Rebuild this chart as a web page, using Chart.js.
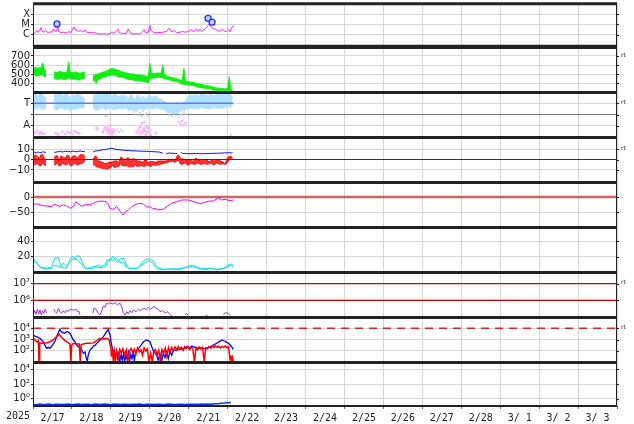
<!DOCTYPE html>
<html>
<head>
<meta charset="utf-8">
<script src="https://cdn.jsdelivr.net/npm/chart.js@4.4.1/dist/chart.umd.min.js"></script>
<style>
html, body { margin: 0; padding: 0; background: #fff; }
#wrap { position: relative; width: 634px; height: 424px; overflow: hidden; }
#wrap canvas { position: absolute; left: 0; }
</style>
</head>
<body>
<div id="wrap"></div>
<script>
// ---- X AXIS (hours since 2/17 00:00) ----
const dayLabels = ['2/17','2/18','2/19','2/20','2/21','2/22','2/23','2/24','2/25','2/26','2/27','2/28','3/ 1','3/ 2','3/ 3'];
const yearLabel = '2025';

// ---- PANEL 1: X-ray flux ----
const xrayTicks = [1e-6, 1e-5, 1e-4];
const xrayLabels = ['C', 'M', 'X'];
const xrayHours = [0.2,1.2,2.3,2.9,4.0,5.0,5.8,6.8,7.9,8.9,10.4,11.5,12.5,13.6,14.6,15.2,15.8,17.0,18.7,20.7,
  22.3,23.4,24.4,25.2,26.0,27.3,28.5,29.7,31.0,32.0,33.1,35.1,37.2,39.3,41.3,43.4,45.4,47.5,48.7,49.9,
  51.6,52.4,53.2,55.3,57.3,58.8,59.8,61.9,64.0,66.0,67.7,68.5,69.5,71.1,72.0,72.6,74.2,76.2,78.3,80.3,
  82.4,83.6,84.4,85.5,86.9,88.5,90.6,92.3,93.7,95.8,97.8,98.9,100.9,101.9,103.0,104.0,105.4,106.7,107.7,108.7,
  109.5,110.8,112.2,113.6,115.3,116.9,117.9,119.4,120.6,121.4,122.4,123.5];
const xrayFlux = [1.2e-6,1.5e-6,2.6e-6,1.7e-6,2.1e-6,5.0e-6,2.0e-6,1.7e-6,2.6e-6,1.5e-6,1.85e-6,1.7e-6,3.5e-6,2.0e-6,2.6e-6,7.1e-6,2.1e-6,1.5e-6,1.7e-6,1.5e-6,
  2.0e-6,1.5e-6,3.5e-6,5.4e-6,3.0e-6,2.6e-6,2.1e-6,2.45e-6,1.7e-6,3.0e-6,1.7e-6,1.5e-6,1.7e-6,1.3e-6,1.12e-6,1.2e-6,1.12e-6,1.2e-6,1.85e-6,1.3e-6,
  2.45e-6,3.25e-6,1.5e-6,1.3e-6,1.3e-6,3.5e-6,1.5e-6,1.12e-6,1.2e-6,1.12e-6,2.0e-6,3.0e-6,1.5e-6,1.7e-6,8.2e-6,2.6e-6,1.7e-6,1.5e-6,1.6e-6,1.7e-6,
  2.0e-6,4.0e-6,3.5e-6,1.85e-6,2.45e-6,1.5e-6,1.7e-6,2.1e-6,1.7e-6,2.0e-6,3.0e-6,1.85e-6,3.5e-6,2.0e-6,3.5e-6,2.0e-6,3.0e-6,4.3e-6,7.1e-6,1.1e-5,
  6.2e-6,4.3e-6,3.5e-6,2.6e-6,2.1e-6,3.5e-6,2.1e-6,2.0e-6,3.0e-6,1.85e-6,4.3e-6,7.6e-6];
const flareHours = [14.8, 107.9, 110.4];
const flareFlux = [1.1e-5, 3.9e-5, 1.66e-5];

// ---- PANEL 2: solar wind speed, hourly high / low ----
const speedTicks = [400, 500, 600, 700];
const windHigh = [570,565,575,560,575,565,625,550,545, null,null,null,null,
  525,520,515,525,530,520,520,515,525,635,515,520,510,525,520,510,505,520,515,525, null,null,null,null,
  480,490,495,500,505,515,520,525,530,540,550,560,560,555,550,545,540,530,525,520,
  515,510,505,500,500,500,495,490,490,490,485,480,480,475,470,620,505,505,505,510,510,510,505,600,
  490,480,475,470,465,460,455,450,445,440,
  430,425,560,420,420,415,410,410,405,400,
  395,390,385,385,380,375,370,370,365,360,
  355,350,345,345,340,340,338,335,335,335,470,330,330];
const windLow = [480,490,475,485,480,490,495,470,470, null,null,null,null,
  445,450,440,445,450,445,440,435,450,455,450,440,445,440,445,430,440,450,450,455, null,null,null,null,
  420,430,395,440,440,455,460,465,470,480,480,490,490,485,480,470,470,465,465,460,
  450,445,440,440,440,430,425,425,430,420,420,415,415,410,400,450,450,455,455,460,460,465,460,455,
  450,445,440,435,430,425,420,415,415,410,
  390,390,385,385,380,380,375,375,370,365,
  355,355,350,345,345,340,340,335,335,330,
  320,320,318,318,315,315,312,312,312,315,318,315,318];

// ---- PANEL 3: IMF sector, toward band / away points (deg) ----
const sectorTicks = [90, 180, 270];
const sectorLabels = ['A', '', 'T'];
const sectorMeanHours = [0, 123.5];
const sectorMeanPhi = [270, 270];
const towardHigh = [340,345,345,330,340,340,340,320,315, null,null,null,null,
  350,345,335,350,350,335,330,345,340,330,310,335,335,330,345,345,340,320,315,300, null,null,null,null,
  345,335,335,345,350,335,340,350,350,345,340,335,330,340,340,330,320,330,335,330,
  330,320,305,335,335,300,300,330,335,315,320,325,310,305,330,335,320,320,330,330,310,305,300,290,
  285,275,270,265,265,260,255,270,275,265,260,275,280,290,310,
  335,335,330,335,340,335,330,340,345,340,335,335,330,340,340,335,330,340,345,340,340,340,345,350,350,345,335,320];
const towardLow = [230,225,220,235,240,225,220,225,235, null,null,null,null,
  225,220,220,225,235,230,220,225,230,220,215,215,225,225,220,230,235,230,235,235, null,null,null,null,
  235,225,215,215,225,230,235,225,220,225,230,230,225,220,220,225,230,230,225,230,
  235,220,215,215,225,215,210,210,220,225,225,220,220,225,230,230,225,225,230,235,230,230,225,220,
  220,210,200,195,195,190,190,190,195,200,210,215,215,220,225,
  235,230,225,230,230,225,225,235,235,230,230,230,225,225,230,235,230,230,230,235,230,230,235,235,240,240,235,265];
const grayHours = [62,63,64,65,66,67,68,69,70,71,72,83,84,85,86,87,88,89,90,91,92,93,94,
  1,3,5,7,14,16,19,22,25,44,46,48,63,66,69,71,
  6,7,8,21,23,25,27,29,52,53,54,55,68,69,70,71,72,122];
const grayPhi = [200,185,210,175,195,170,205,180,190,165,200,190,175,200,165,185,170,195,160,180,175,200,185,
  352,350,354,351,353,350,352,354,351,352,350,353,352,350,353,351,
  25,20,30,45,35,50,40,30,55,40,60,45,50,70,40,80,55,15];
const awayHours = [1.5,2.5,3.5,4.5,5.5,14,15.5,18,20,22,24,26,28,39,39.5,43,44,44.5,45,45.5,46,46.5,47,47.5,48,48.5,49,49.5,50,
  64,65,65.5,66,66.5,67,67.5,68,68.5,69,69.5,70,70.5,71,71.5,72,72.5,76,90,91,92,93,94];
const awayPhi = [35,50,25,40,30,30,20,40,25,35,22,45,30,75,65,40,60,80,168,45,70,30,55,90,40,20,60,35,50,
  40,60,25,80,45,110,35,65,120,50,20,85,40,70,30,55,15,30,120,100,130,95,110];

// ---- PANEL 4: IMF Bt (hourly) and Bz hourly high / low (nT) ----
const imfTicks = [-10, 0, 10];
const imfLabels = ['\u221210', '0', '10'];
const imfBt = [6.5,7.0,6.2,7.2,6.8,6.4,7.5,6.9,7.1, null,null,null,null,
  7.2,6.8,7.5,7.4,7.8,7.2,7.6,8.0,7.5,7.9,7.3,7.7,8.1,7.6,7.4,7.9,8.2,7.8,7.5,7.9, null,null,null,null,
  7.2,7.8,8.5,8.2,9.0,8.8,9.5,9.2,10.0,9.8,10.4,10.9,10.6,10.2,9.8,9.4,9.6,9.0,9.2,8.8,
  8.9,8.6,8.8,8.3,8.5,8.2,8.4,8.0,8.3,7.9,8.1,7.8,8.0,7.6,7.9,7.5,7.7,7.4,7.6,7.2,7.4,7.0,6.5,6.2,
  null, 6.0,5.8,6.2,5.9,6.1,5.7,6.0,5.8, null,
  7.0,6.0,5.6,5.9,5.5,5.8,5.4,5.7,5.5,5.9,5.6,5.8,5.5,5.7,5.4,5.8,5.6,5.9,5.7,6.0,5.8,6.1,5.9,6.2,6.0,6.3,6.1,6.4,6.2,6.5,6.6,6.3,6.4];
const bzHigh = [3,4,4,2,2,4.5,4.5,1,-1, null,null,null,null,
  2,3.5,3.5,-2,3,3,1.5,1.5,4,4,-1,2.5,3.5,3.5,2,2,4.5,4.5,4.5,3, null,null,null,null,
  -1,3,3,-1.5,-1.5,-2.5,-2.5,-4,-3.5,-3.5,-2.5,-2.5,-2.5,-1.5,-1.5,-1.5,-3,2,2,-1.5,
  -1.5,1.5,1.5,-2.5,0.5,0.5,0.5,-1.5,-1.5,-1.5,-2.5,-2.5,-0.5,-0.5,-3.5,-2,-2,-2,-2.5,-2.5,-1.5,-1.5,-1.5,-1.5,
  -1.5,-1.5,-0.5,-0.5,0,0,-1.5,0,4,4,
  0.5,0.5,0.5,-1,-1,-0.5,-0.5,-1.5,-1.5,1,1,-1,-1,-1.5,0,0,0,-2,-2,-0.5,-0.5,-1.5,-0.5,-0.5,-0.5,-2,-2,-4,-2.5,2,3,3,1.5];
const bzLow = [-5,-5,-4,-4,-6,-6,-3,-5.5,-5.5, null,null,null,null,
  -5,-5,-3,-6,-6,-4,-4,-5,-5,-2,-6,-6,-3.5,-3.5,-5,-5,-4,-4,-3,-1, null,null,null,null,
  -5,-5,-7,-7,-8,-8,-8.5,-8.5,-9,-9,-8,-8,-5.5,-7.5,-7.5,-6.5,-6.5,-3,-6,-6,
  -6,-6,-7,-7,-7,-7,-5,-6.5,-6.5,-6,-6,-6.5,-6.5,-5.5,-5.5,-6.5,-6.5,-5,-5.5,-5.5,-5,-5,-4,-4,
  -3.5,-3,-3,-2,-2,-1.5,-2.5,-2.5,-0.5,-1.5,
  -4.5,-4.5,-3.5,-3.5,-5,-5,-4,-4,-4.5,-4.5,-3.5,-3.5,-4.5,-4.5,-4,-4,-4.5,-4.5,-3.5,-3.5,-5,-5,-3.5,-3.5,-4.5,-4.5,-4,-4.5,-4.5,-2.5,-0.5,1.5,1];

// ---- PANEL 5: Dst (nT) ----
const dstTicks = [-50, 0];
const dstLabels = ['\u221250', '0'];
const dstHours = [0.2,2.3,6.4,11.5,13.6,16.2,18.7,20.7,23.2,24.9,26.5,28,30,32.1,35.1,37.2,39.3,41.3,44.4,45.8,
  47.5,49.6,51.6,53.7,55.7,56.8,58.8,60.9,62.9,65,68,70.1,72.1,73.8,75.2,77.2,80.3,82.4,85.4,88.5,
  91.6,95.7,99.8,103,105,108.1,111.2,114.3,116.3,118.4,121.4,123.5];
const dstValues = [-24,-23,-29,-32,-24,-32,-26,-30,-38,-30,-16,-23,-31,-26,-26,-21,-16,-14,-14,-19,
  -38,-41,-32,-48,-60,-50,-43,-32,-26,-21,-23,-34,-32,-40,-38,-43,-41,-32,-21,-16,
  -10,-10,-16,-23,-19,-14,-13,-4,-10,-8,-12,-10];

// ---- PANEL 6: density, two sources ----
const densTicks = [20, 40];
const densHoursA = [0.2,1.2,3.3,5.3,8.4,11.5,13.6,15.6,17.7,20.7,22.8,24.4,25.9,27.3,29,30.6,32.7,35.1,38.2,40.3,
  41.3,44.4,45.8,47.5,49.1,50.5,52,53.7,56.1,57.8,59.8,64,65.6,67,69.1,72.1,74.2,76.2,78.3,81.4,
  84.4,88.5,92.6,96.7,98.9,103,107.1,109.1,113.2,117.3,120.3,122.4,123.5];
const densA = [18.7,14.4,10,5.8,4.6,7.2,18.7,18.7,5.8,5.8,16.5,20.8,16.5,22,20,12.3,4.6,4.6,5.8,10,
  7.2,10,16.5,15.5,20.8,16.5,12.3,17.5,17.8,9,4.6,4.6,7.2,12.3,16.5,17.6,14.4,7.2,4.6,3.5,
  4.6,3.5,4.6,9,7.2,4.6,3.5,5.8,3.5,4.6,10,9,5.8];
const densHoursB = [0.2,2.3,4.3,8.4,11.5,13.6,16.6,18.7,20.7,22.8,25,27.3,29,30.6,32.7,35.1,38.2,40.3,44.4,45.8,
  47.5,49.1,50.5,52,53.7,56.1,57.8,59.8,64,67,69.1,72.1,74.2,76.2,81.4,88.5,96.7,98.9,103,109.1,
  113.2,117.3,120.3,122.4,123.5];
const densB = [16,12,6.5,5.5,5,9,7,12,8,13,18,16,13,8,5,6,8,6,7,12,
  18,14,19,17,13,12,6,5,5.5,9,13,15,10,5.5,4,4.5,7,9,5,4.5,
  4,5,7.5,11,8];

// ---- PANEL 7: >2 MeV electron flux ----
const elecTicks = [1e6, 1e7];
const elecLabels = ['10\u2076', '10\u2077'];
const elecLevels = [1e6, 1e7];
const elecHours = [0.2,1.0,1.8,2.7,3.5,4.3,5.1,5.9,6.7,7.5,8.4,10,
  12.9,13.7,14.6,15.6,16.6,17.6,18.7,19.7,20.7,21.8,22.8,24.9,26.5,27.3,28.1,29.0,32,
  36.8,37.6,38.8,40.3,41.3,42.4,43.4,44.4,45.4,46.4,47.5,49.1,50.5,52.0,53.7,54.7,55.7,56.8,57.8,58.8,
  59.8,60.9,61.9,63.5,65.0,66.4,68.0,69.7,71.1,72.6,74.2,75.8,77.2,78.3,79.9,81.4,82.8,84.4,85.4,88,
  93.7,94.7,95.7,100,106.5,107.5,112,117.3,118.9,120.3,121.4];
const elecFlux = [1.32e5,2.6e5,1.45e5,2.9e5,1.5e5,2.6e5,1.32e5,2.4e5,1.66e5,2.9e5,1.8e5,null,
  2.9e5,2.1e5,1.66e5,3.3e5,2.1e5,1.66e5,2.4e5,1.8e5,2.6e5,2.1e5,2.9e5,2.6e5,2.9e5,2.1e5,2.4e5,1.32e5,null,
  1.66e5,3.3e5,2.9e5,1.66e5,1.32e5,2.4e5,4.6e5,3.8e5,6.6e5,6.0e5,7.2e5,6.0e5,7.2e5,5.5e5,6.6e5,4.2e5,1.8e5,1.32e5,2.1e5,1.5e5,
  2.4e5,1.8e5,2.6e5,2.1e5,2.9e5,2.4e5,3.3e5,2.9e5,3.8e5,2.9e5,4.2e5,3.45e5,2.9e5,2.1e5,2.4e5,1.8e5,2.1e5,1.45e5,1.15e5,null,
  1.32e5,1.66e5,1.26e5,null,1.3e5,1.26e5,null,1.45e5,1.8e5,1.66e5,1.26e5];

// ---- PANEL 8: low-energy particle flux ----
const lowTicks = [1e2, 1e3, 1e4];
const lowLabels = ['10\u00b2', '10\u00b3', '10\u2074'];
const lowAlert = 1e4;
const lowBlueHours = [0.2,1.2,2.3,3.3,4.3,5.3,6.4,7.4,8.4,9.4,10.4,11.5,12.5,13.6,14.6,15.6,16.6,17.4,18.2,19.5,
  20.7,21.8,22.8,23.8,24.9,25.9,26.9,27.9,29,30,31,32.1,32.7,33.5,34.1,35.1,36.2,37.2,38.2,39.3,
  40.3,41.3,42.4,43.4,44.4,45.4,46.4,47.5,48.1,48.9,49.9,50.9,51.6,52,52.8,53.5,54.3,55,55.8,56.5,
  57.3,58,58.8,59.5,60.3,61,61.8,62.5,63.3,64,66,68.1,70.1,72.1,73.2,74.2,76.2,77.2,78.3,79.3,
  80.3,81.4,82.4,83.4,84.4,85.5,86.5,88.5,90.6,92.6,94.7,96.7,97.8,99.8,101.9,104,106,108.1,110.2,112.3,
  114.3,116.4,118.4,120.5,122.5,123.5];
const lowBlue = [2500,2000,1800,1500,1300,900,630,300,163,200,163,250,400,700,1800,4000,8100,5000,4100,3600,
  5000,4500,3600,1800,900,630,325,230,180,115,60,80,25,12,45,115,160,250,300,455,
  600,900,1200,1800,3000,5000,7500,2500,600,160,80,40,60,20,55,12,45,15,60,11,
  40,18,70,12,50,20,65,14,80,120,230,630,910,630,230,100,40,15,50,12,
  60,25,80,20,90,40,110,115,150,134,230,180,260,200,163,180,150,200,260,400,
  560,900,700,455,230,134];
const lowRedHours = [0.2,1.2,2.3,2.9,3.3,3.7,4.1,5.3,6.4,8.4,10.4,12.5,14.6,16.2,17,18.2,19.7,21.8,22.8,23.2,
  23.4,23.8,24.9,26.9,28.5,29.1,29.7,31,33.1,35.1,37.2,39.3,41.3,43.4,45.4,46.8,47.9,48.5,48.9,49.6,
  50.2,50.8,51.6,52.6,53.5,54.5,55.5,56.5,57.5,58.5,59.5,60.5,61.5,62.5,63.5,64.5,65.5,66.5,67.5,68.5,
  69.5,70.5,71.5,72.5,73.5,74.5,75.5,76.5,77.5,78.5,79.5,80.5,81.5,82.5,83.5,84.5,85.5,86.5,87.5,88.5,
  89.5,90.5,91.5,92.5,93.5,94.5,95.5,96.5,97.5,98.5,99.5,100.5,101.5,102.5,103.5,104.5,105.5,106.5,107.5,108.5,
  109.5,110.5,111.5,112.5,113.5,114.5,115.5,116.5,117.5,118.5,119.5,120.5,121.5,122,122.5,123,123.5];
const lowRed = [1300,900,630,600,800,10,500,455,455,510,630,910,1800,3000,2000,1300,800,500,380,30,
  10,300,455,400,400,12,350,400,455,455,500,800,1300,1100,1300,1000,200,30,120,10,
  80,15,100,20,130,60,150,40,120,14,100,160,70,140,50,170,80,130,40,180,
  90,150,10,60,11,90,130,40,110,12,130,60,170,30,190,80,200,100,220,120,
  240,140,200,110,230,160,250,130,210,150,11,190,120,220,140,200,12,180,150,230,
  170,250,190,270,200,260,180,240,200,260,190,230,15,40,10,25,12];

// ---- PANEL 9: proton flux (every 2 h) ----
const protTicks = [1, 1e2, 1e4];
const protLabels = ['10\u2070', '10\u00b2', '10\u2074'];
const protStep = 2;
const protonFlux = [0.17,0.15,0.18,0.16,0.17,0.19,0.15,0.17,0.18,0.16,
  0.17,0.18,0.15,0.17,0.19,0.16,0.18,0.17,0.15,0.18,
  0.17,0.16,0.19,0.17,0.15,0.18,0.17,0.16,0.18,0.17,
  0.16,0.18,0.17,0.19,0.15,0.17,0.18,0.16,0.17,0.18,
  0.16,0.17,0.19,0.17,0.16,0.18,0.17,0.16,0.18,0.17,
  0.18,0.17,0.19,0.18,0.19,0.18,0.2,0.21,0.23,0.25,
  0.28,0.31];

// ---- STYLE ----
const GRID = '#d6d6d6';
const INK = '#222';
const CLEAR = 'rgba(0,0,0,0)';
const yFont = { family: 'DejaVu Sans', size: 10 };
const xFont = { family: 'DejaVu Sans Mono', size: 10 };
const panelTop = [2, 47, 92, 137, 182, 227, 272, 317, 362];
const panelH = [45, 45, 45, 45, 45, 45, 45, 45, 44];
const PAD = 4;
const HOURS = dayLabels.length * 24;

const wrap = document.getElementById('wrap');

function pairs(xs, ys) { return xs.map((x, i) => ({ x: x, y: ys[i] })); }
function series(ys, step) { return ys.map((y, i) => ({ x: i * (step || 1), y: y })); }
function level(v) { return [{ x: 0, y: v }, { x: HOURS, y: v }]; }

function line(data, color, extra) {
    return Object.assign({
        data: data, borderColor: color, backgroundColor: color,
        borderWidth: 1, pointRadius: 0, tension: 0, spanGaps: false, fill: false
    }, extra || {});
}
function dots(data, color, r, extra) {
    return Object.assign({
        data: data, showLine: false, borderColor: color, backgroundColor: color,
        borderWidth: 0, pointRadius: r, pointStyle: 'rect'
    }, extra || {});
}

// frame, separators, "rt" marks, year label
const frame = {
    id: 'frame',
    afterDraw(chart, args, o) {
        const { ctx, chartArea: a, scales } = chart;
        ctx.save();
        ctx.strokeStyle = INK;
        ctx.lineWidth = 1;
        ctx.beginPath();
        ctx.moveTo(a.left + 0.5, a.top); ctx.lineTo(a.left + 0.5, a.bottom);
        ctx.moveTo(a.right - 0.5, a.top); ctx.lineTo(a.right - 0.5, a.bottom);
        scales.y.ticks.forEach(t => {
            const py = Math.round(scales.y.getPixelForValue(t.value)) + 0.5;
            ctx.moveTo(a.right, py); ctx.lineTo(a.right + 2, py);
        });
        ctx.stroke();
        ctx.lineWidth = 3;
        ctx.beginPath();
        ctx.moveTo(a.left, a.top + 0.5); ctx.lineTo(a.right, a.top + 0.5);
        ctx.stroke();
        ctx.lineWidth = o.last ? 2 : 3;
        ctx.beginPath();
        ctx.moveTo(a.left, a.bottom + (o.last ? 0 : 0.5)); ctx.lineTo(a.right, a.bottom + (o.last ? 0 : 0.5));
        ctx.stroke();
        if (o.rt != null) {
            ctx.font = '6px "DejaVu Sans"';
            ctx.fillStyle = '#333';
            ctx.textBaseline = 'middle';
            ctx.fillText('rt', a.right + 4, scales.y.getPixelForValue(o.rt) - 1);
        }
        if (o.last) {
            ctx.font = '10px "DejaVu Sans Mono"';
            ctx.fillStyle = INK;
            ctx.textAlign = 'center';
            ctx.textBaseline = 'top';
            ctx.fillText(yearLabel, a.left - 15, a.bottom + 5);
        }
        ctx.restore();
    }
};

function panel(i, y, datasets, rt) {
    const last = i === panelTop.length - 1;
    const top = panelTop[i] - PAD;
    const h = last ? 424 - top : panelH[i] + 2 * PAD;
    const cv = document.createElement('canvas');
    cv.width = 634; cv.height = h; cv.style.top = top + 'px';
    wrap.appendChild(cv);

    new Chart(cv, {
        type: 'line',
        data: { datasets: datasets },
        options: {
            responsive: false, animation: false, events: [],
            layout: { padding: { top: PAD, bottom: last ? 0 : PAD, left: 0, right: 17 } },
            plugins: { legend: { display: false }, tooltip: { enabled: false }, frame: { rt: rt, last: last } },
            scales: {
                x: {
                    type: 'linear', min: 0, max: HOURS,
                    afterBuildTicks: s => {
                        const t = [];
                        dayLabels.forEach((d, k) => { t.push({ value: k * 24 }, { value: k * 24 + 12 }); });
                        t.push({ value: HOURS });
                        s.ticks = t;
                    },
                    afterFit: s => { s.height = last ? h - PAD - panelH[i] : 0; s.paddingLeft = 0; s.paddingRight = 0; },
                    border: { display: false },
                    grid: {
                        color: c => (c.tick && c.tick.value % 24 === 0) ? GRID : CLEAR,
                        drawTicks: last, tickLength: 3,
                        tickColor: c => (c.tick && c.tick.value % 24 === 0) ? '#666' : CLEAR
                    },
                    ticks: {
                        display: last, autoSkip: false, maxRotation: 0, minRotation: 0, padding: 3,
                        color: INK, font: xFont,
                        callback: v => (v % 24 === 12) ? dayLabels[(v - 12) / 24] : ''
                    }
                },
                y: {
                    type: y.type || 'linear', min: y.min, max: y.max,
                    afterBuildTicks: s => { s.ticks = y.ticks.map(v => ({ value: v })); },
                    afterFit: s => { s.width = 33; s.paddingTop = 0; s.paddingBottom = 0; },
                    border: { display: false },
                    grid: { color: y.gridColor || GRID, tickLength: 2, tickColor: INK },
                    ticks: {
                        autoSkip: false, padding: 1, color: INK, font: yFont,
                        callback: (v, k) => y.labels ? y.labels[k] : String(v)
                    }
                }
            }
        },
        plugins: [frame]
    });
}

// 1 X-ray
panel(0, { type: 'logarithmic', min: 8.1e-8, max: 1.17e-3, ticks: xrayTicks, labels: xrayLabels }, [
    dots(pairs(flareHours, flareFlux), 'rgba(190,195,255,0.8)', 3,
         { pointStyle: 'circle', borderColor: '#2233ff', borderWidth: 1.3 }),
    line(pairs(xrayHours, xrayFlux), '#ff22ff')
]);

// 2 wind speed band
panel(1, { min: 300, max: 800, ticks: speedTicks }, [
    line(series(windHigh), '#11ee11'),
    line(series(windLow), '#11ee11', { fill: '-1' })
], 700);

// 3 sector
panel(2, { min: 0, max: 360, ticks: sectorTicks, labels: sectorLabels,
           gridColor: c => c.tick && c.tick.value === 180 ? '#777' : GRID }, [
    line(pairs(sectorMeanHours, sectorMeanPhi), '#6677ee', { borderWidth: 1.5 }),
    line(series(towardHigh), '#b0e0ff'),
    line(series(towardLow), '#b0e0ff', { fill: '-1' }),
    dots(pairs(grayHours, grayPhi), '#cccccc', 1.2),
    dots(pairs(awayHours, awayPhi), '#ffb0ff', 1.8)
], 270);

// 4 IMF
panel(3, { min: -21.6, max: 21.6, ticks: imfTicks, labels: imfLabels }, [
    line(level(0), '#aa0000'),
    line(series(bzHigh), '#ff0000'),
    line(series(bzLow), '#ff0000', { fill: '-1', backgroundColor: 'rgba(255,0,0,0.8)' }),
    line(series(imfBt), '#0000ff')
], 10);

// 5 Dst
panel(4, { min: -100, max: 50, ticks: dstTicks, labels: dstLabels }, [
    line(pairs(dstHours, dstValues), '#ee00ee'),
    line(level(0), '#cc6666', { borderWidth: 2.5 })
]);

// 6 density
panel(5, { min: 0.5, max: 58.5, ticks: densTicks }, [
    line(pairs(densHoursA, densA), '#00e0e0'),
    line(pairs(densHoursB, densB), '#00e0e0')
]);

// 7 electrons
panel(6, { type: 'logarithmic', min: 1e5, max: 5e7, ticks: elecTicks, labels: elecLabels }, [
    line(level(elecLevels[0]), '#cc0000', { borderWidth: 1.3 }),
    line(level(elecLevels[1]), '#cc0000', { borderWidth: 1.3 }),
    line(pairs(elecHours, elecFlux), '#9933cc')
], 1e7);

// 8 low-energy particles
panel(7, { type: 'logarithmic', min: 10, max: 1e5, ticks: lowTicks, labels: lowLabels }, [
    line(level(lowAlert), '#dd2222', { borderWidth: 1.3, borderDash: [8, 6] }),
    line(pairs(lowRedHours, lowRed), '#ff0000', { borderWidth: 1.5 }),
    line(pairs(lowBlueHours, lowBlue), '#0000ff', { borderWidth: 1.3 })
], 1e4);

// 9 protons
panel(8, { type: 'logarithmic', min: 0.1, max: 1e5, ticks: protTicks, labels: protLabels }, [
    line(series(protonFlux, protStep), '#1133ee', { borderWidth: 1.5 })
]);
</script>
</body>
</html>
